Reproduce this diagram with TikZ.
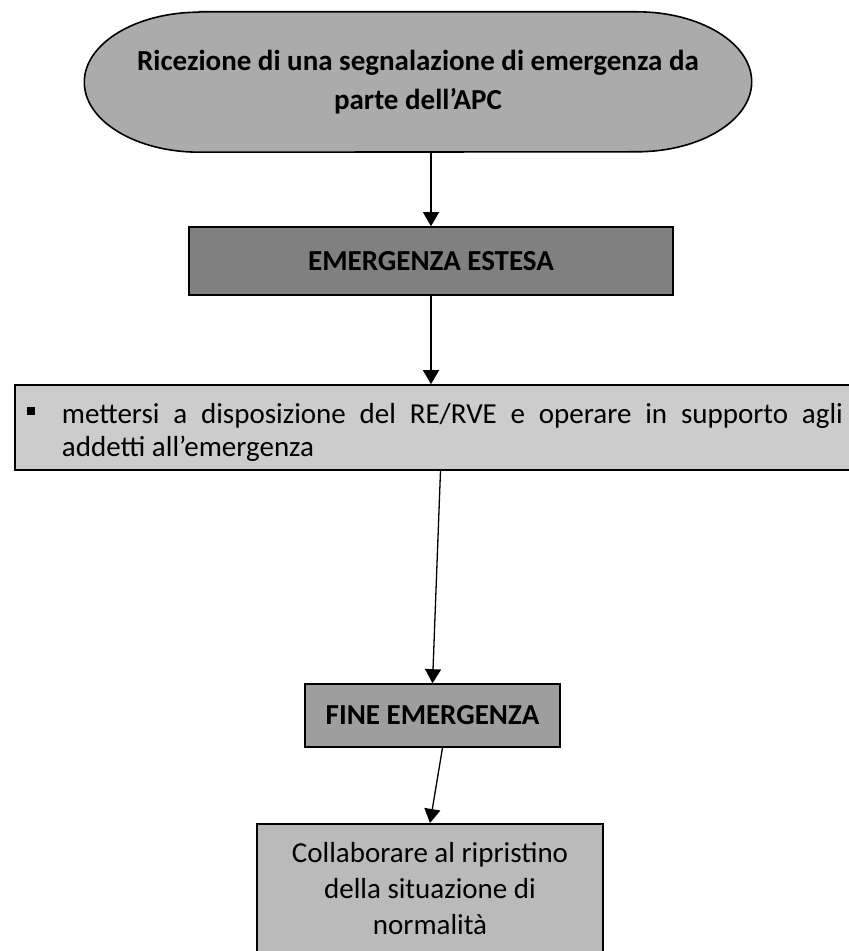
\documentclass[tikz,border=0pt]{standalone}
\usepackage{fontspec}
\setmainfont{Carlito}
\usetikzlibrary{arrows.meta,backgrounds}

\begin{document}
\begin{tikzpicture}[x=1pt, y=1pt,
  box/.style={draw, line width=1.6pt, inner sep=2pt},
  flow/.style={-{Triangle[width=16pt,length=14pt]}, line width=1.3pt},
  bigbold/.style={font=\fontsize{29}{39}\selectfont\bfseries},
  bigtext/.style={font=\fontsize{29}{36}\selectfont}]

\useasboundingbox (0, 0) rectangle (849, 951);
\clip (0, 0) rectangle (849, 951);

\node[bigbold, align=center, minimum width=667pt, minimum height=140pt, inner sep=0pt] (ricezione) at (418, 869)
  {Ricezione di una segnalazione di emergenza da\\parte dell’APC};
\begin{scope}[on background layer]
\draw[line width=1.6pt, fill=black!33]
  ([xshift=115pt]ricezione.north west) -- ([xshift=-115pt]ricezione.north east)
  arc[start angle=90, end angle=-90, x radius=115pt, y radius=70pt]
  -- ([xshift=115pt]ricezione.south west)
  arc[start angle=270, end angle=90, x radius=115pt, y radius=70pt] -- cycle;
\end{scope}

\node[box, bigbold, fill=black!50, minimum width=484pt, minimum height=68pt] (estesa) at (431, 690) {EMERGENZA ESTESA};

\node[box, font=\fontsize{29}{33}\selectfont, fill=black!20, text width=816pt, inner xsep=12pt, minimum height=85pt, align=justify] (mettersi) at (435, 523.5)
  {\hyphenpenalty=10000\exhyphenpenalty=10000\noindent\hangindent=35pt\hangafter=1\relax\rule{0pt}{30pt}\makebox[35pt][l]{\raisebox{9pt}{\rule{8pt}{8pt}}}mettersi a disposizione del RE/RVE e operare in supporto agli \mbox{addetti} all’emergenza\par};

\node[box, bigbold, fill=black!38, minimum width=255pt, minimum height=63pt] (fine) at (432.5, 235.5) {FINE EMERGENZA};

\node[box, bigtext, fill=black!27, align=center, minimum width=346pt, minimum height=130pt, anchor=north] (collab) at (430, 128)
  {Collaborare al ripristino\\della situazione di\\normalità};

\draw[flow] (ricezione.south -| estesa.north) -- (estesa.north);
\draw[flow] (estesa.south) -- (estesa.south |- mettersi.north);
\draw[flow] ([xshift=8pt]fine.north |- mettersi.south) -- (fine.north);
\draw[flow] ([xshift=10pt]fine.south) -- (collab.north);
\end{tikzpicture}
\end{document}
